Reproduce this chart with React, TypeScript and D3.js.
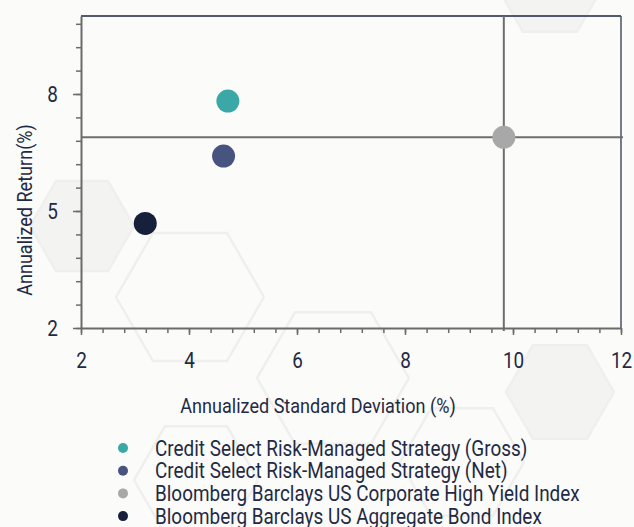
import { useEffect, useRef } from 'react';
import * as d3 from 'd3';

const WIDTH = 634;
const HEIGHT = 527;
const MARGIN = { top: 16, right: 13, bottom: 199, left: 81 };

// series
const names = [
  'Credit Select Risk-Managed Strategy (Gross)',
  'Credit Select Risk-Managed Strategy (Net)',
  'Bloomberg Barclays US Corporate High Yield Index',
  'Bloomberg Barclays US Aggregate Bond Index',
];
const stdDev = [4.72, 4.64, 9.83, 3.19];
const returns = [7.82, 6.41, 6.89, 4.68];
const colors = ['#3aa8a6', '#47547f', '#a8a8a8', '#17203a'];

// the high yield index is the reference for the crosshair
const refIndex = 2;

const xTicks = [2, 4, 6, 8, 10, 12];
const yTicks = [2, 5, 8];

// faint background hexagons [cx, cy, r, filled]
const hexes: [number, number, number, boolean][] = [
  [82, 226, 52, true],
  [190, 297, 74, false],
  [333, 378, 76, false],
  [196, 480, 62, false],
  [560, 392, 54, true],
  [462, 462, 62, false],
  [550, -15, 54, true],
];

const hexPath = (cx: number, cy: number, r: number) => {
  const pts = d3.range(6).map((i) => {
    const a = (Math.PI / 3) * i;
    return [cx + r * Math.cos(a), cy + r * Math.sin(a)] as [number, number];
  });
  return d3.line()([...pts, pts[0]]);
};

const FONT = 'Roboto, sans-serif';
const INK = '#1f2a44';
const SQUEEZE = 0.86;

const App = () => {
  const xAxisRef = useRef<SVGGElement>(null);
  const yAxisRef = useRef<SVGGElement>(null);

  const boundsWidth = WIDTH - MARGIN.left - MARGIN.right;
  const boundsHeight = HEIGHT - MARGIN.top - MARGIN.bottom;

  const xScale = d3.scaleLinear().domain([2, 12]).range([0, boundsWidth]);
  const yScale = d3.scaleLinear().domain([2, 10]).range([boundsHeight, 0]);

  useEffect(() => {
    const xg = d3.select(xAxisRef.current);
    xg.selectAll('*').remove();
    // minor ticks
    xg.append('g')
      .call(d3.axisBottom(xScale).tickValues(d3.range(2, 12.01, 0.4)).tickSize(5).tickFormat(() => ''))
      .call((g) => g.select('.domain').remove());
    xg.append('g')
      .call(d3.axisBottom(xScale).tickValues(xTicks).tickSize(7).tickSizeOuter(0).tickPadding(17))
      .call((g) => g.select('.domain').attr('stroke', '#6b6b6b').attr('stroke-width', 2));
    xg.selectAll('line').attr('stroke', '#6b6b6b').attr('stroke-width', 1.5);
    xg.selectAll('text')
      .attr('font-family', FONT)
      .attr('font-size', 22)
      .attr('fill', INK)
      .attr('transform', `scale(${SQUEEZE},1)`);

    const yg = d3.select(yAxisRef.current);
    yg.selectAll('*').remove();
    yg.append('g')
      .call(d3.axisLeft(yScale).tickValues(d3.range(2, 10.01, 0.6)).tickSize(5).tickFormat(() => ''))
      .call((g) => g.select('.domain').remove());
    yg.append('g')
      .call(d3.axisLeft(yScale).tickValues(yTicks).tickSize(8).tickSizeOuter(0).tickPadding(15))
      .call((g) => g.select('.domain').attr('stroke', '#6b6b6b').attr('stroke-width', 2));
    yg.selectAll('line').attr('stroke', '#6b6b6b').attr('stroke-width', 1.5);
    yg.selectAll('.tick text')
      .attr('font-family', FONT)
      .attr('font-size', 22)
      .attr('fill', INK)
      .attr('x', -23 / SQUEEZE)
      .attr('transform', `scale(${SQUEEZE},1)`);
  }, [xScale, yScale]);

  const refX = xScale(stdDev[refIndex]);
  const refY = yScale(returns[refIndex]);

  return (
    <svg width={WIDTH} height={HEIGHT} style={{ position: 'absolute', left: 0, top: 0, background: '#fbfbfa' }}>
      <g>
        {hexes.map(([cx, cy, r, filled], i) => (
          <path
            key={i}
            d={hexPath(cx, cy, r) || ''}
            fill={filled ? '#f3f3f2' : 'none'}
            stroke="#efefee"
            strokeWidth={2.5}
          />
        ))}
      </g>
      <g transform={`translate(${MARGIN.left},${MARGIN.top})`}>
        {/* frame top/right */}
        <line x1={0} x2={boundsWidth} y1={0} y2={0} stroke="#1b2440" strokeWidth={1.5} />
        <line x1={boundsWidth} x2={boundsWidth} y1={0} y2={boundsHeight} stroke="#4a5064" strokeWidth={1.5} />
        {/* crosshair */}
        <line x1={0} x2={boundsWidth + 2} y1={refY} y2={refY} stroke="#6e6e6e" strokeWidth={2} />
        <line x1={refX} x2={refX} y1={0} y2={boundsHeight + 3} stroke="#6e6e6e" strokeWidth={2} />
        <g ref={xAxisRef} transform={`translate(0,${boundsHeight})`} />
        <g ref={yAxisRef} />
        {names.map((n, i) => (
          <circle key={n} cx={xScale(stdDev[i])} cy={yScale(returns[i])} r={11.5} fill={colors[i]} />
        ))}
      </g>
      <text
        transform={`translate(318,413) scale(${SQUEEZE},1)`}
        textAnchor="middle"
        fontFamily={FONT}
        fontSize={21}
        fill={INK}
      >
        Annualized Standard Deviation (%)
      </text>
      <text
        transform={`translate(32,210) rotate(-90) scale(${SQUEEZE},1)`}
        textAnchor="middle"
        fontFamily={FONT}
        fontSize={21}
        fill={INK}
      >
        Annualized Return(%)
      </text>
      <g transform="translate(123,448)">
        {names.map((n, i) => (
          <g key={n} transform={`translate(0,${i * 22.7})`}>
            <circle cx={0} cy={0} r={5} fill={colors[i]} />
            <text
              transform={`translate(32,7.5) scale(${SQUEEZE},1)`}
              fontFamily={FONT}
              fontSize={22}
              fill={INK}
            >
              {n}
            </text>
          </g>
        ))}
      </g>
    </svg>
  );
};

export default App;
